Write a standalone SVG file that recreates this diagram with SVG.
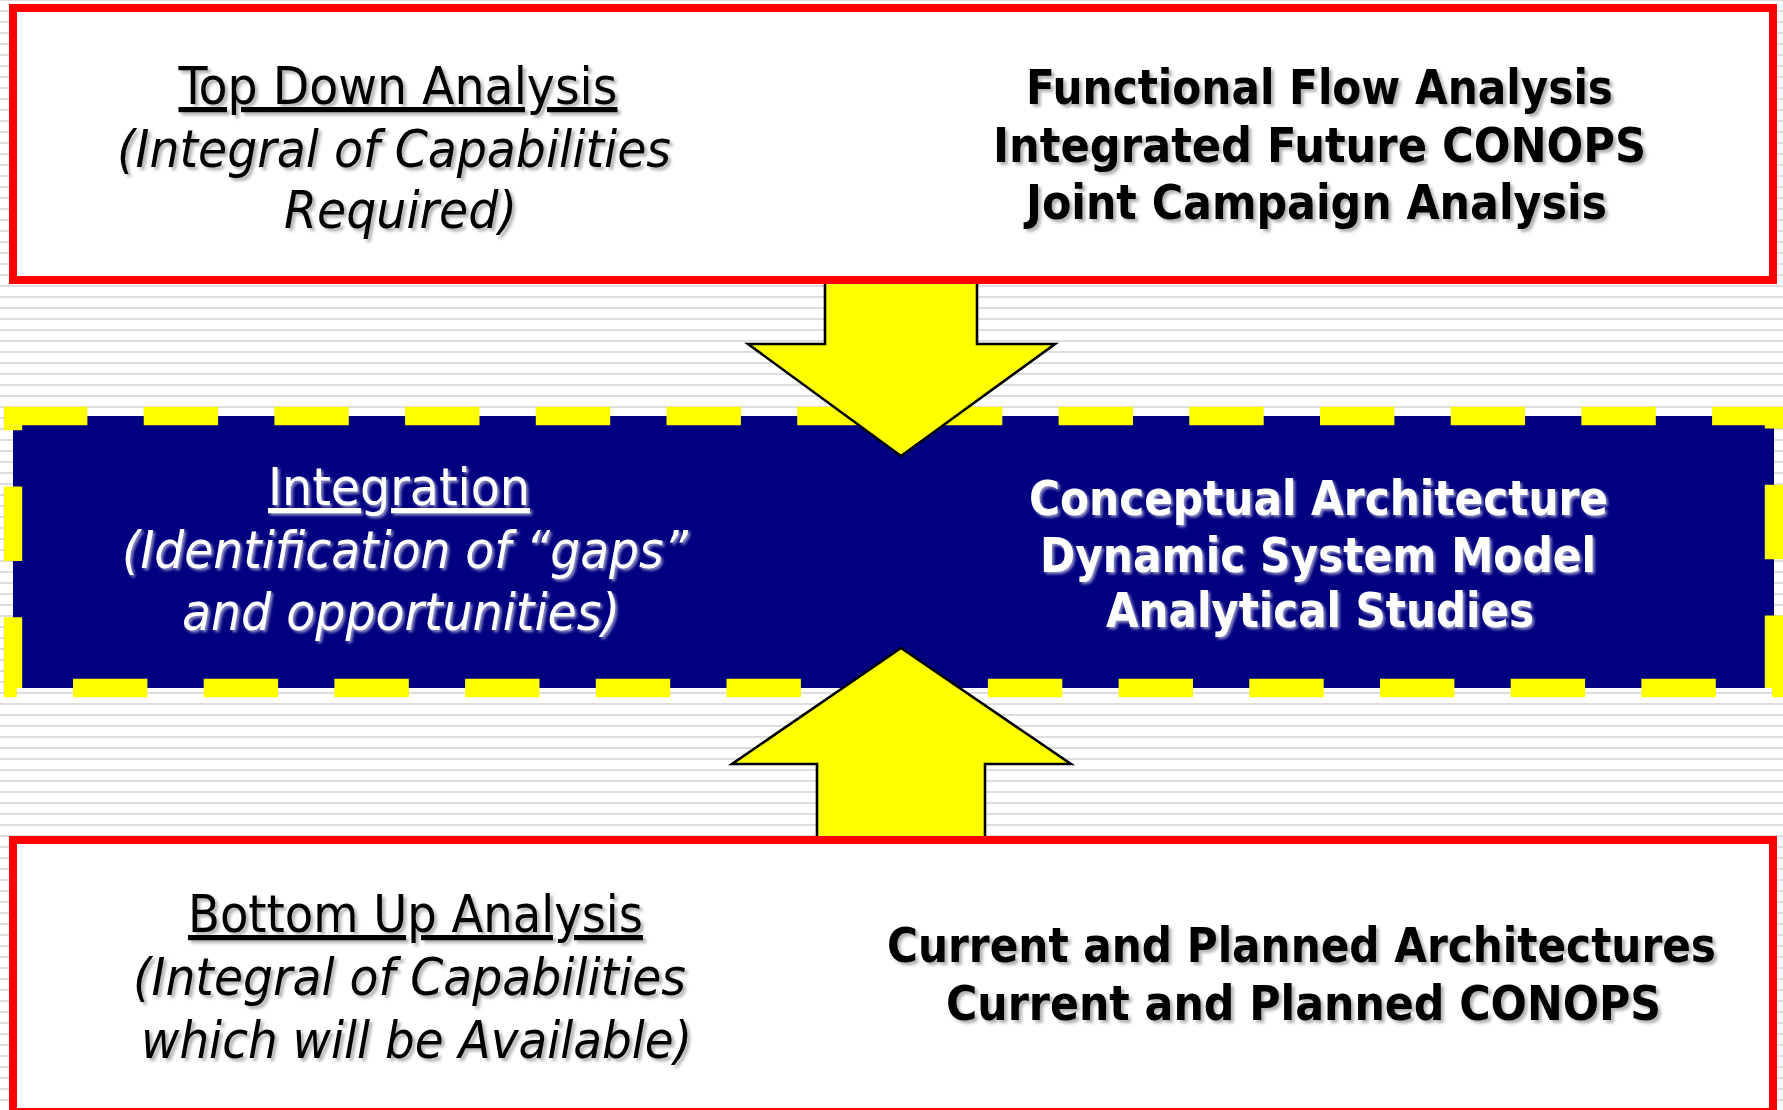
<svg xmlns="http://www.w3.org/2000/svg" width="1783" height="1110" viewBox="0 0 1783 1110">
<style>
.box{fill:#fff;stroke:#ff0000;stroke-width:8}
.mid{fill:#000080;stroke:#ffff00;stroke-width:18.4;stroke-dasharray:74.4 56.3}
.arrow{fill:#ffff00;stroke:#000;stroke-width:2.6;stroke-linejoin:miter}
.t{font-family:"DejaVu Sans Condensed","DejaVu Sans","Liberation Sans",sans-serif;font-size:52px}
.i{font-style:italic}
.u{text-decoration:underline}
.b{font-family:"DejaVu Sans Condensed","DejaVu Sans","Liberation Sans",sans-serif;font-size:48px;font-weight:bold}
.dk{fill:#000;filter:url(#sh)}
.wt{fill:#fff;filter:url(#shw)}
</style>
<defs>
<pattern id="stripes" patternUnits="userSpaceOnUse" x="0" y="10" width="20" height="11">
<rect width="20" height="11" fill="#fff"/>
<rect width="20" height="2" fill="#dddddd"/>
</pattern>
<filter id="sh" x="-5%" y="-30%" width="115%" height="170%">
<feGaussianBlur in="SourceAlpha" stdDeviation="1.4"/>
<feOffset dx="3" dy="3" result="b"/>
<feFlood flood-color="#000" flood-opacity="0.3"/>
<feComposite in2="b" operator="in"/>
<feMerge><feMergeNode/><feMergeNode in="SourceGraphic"/></feMerge>
</filter>
<filter id="shw" x="-5%" y="-30%" width="115%" height="170%">
<feGaussianBlur in="SourceAlpha" stdDeviation="1.6"/>
<feOffset dx="2" dy="2" result="b"/>
<feFlood flood-color="#c8c8e0" flood-opacity="0.75"/>
<feComposite in2="b" operator="in"/>
<feMerge><feMergeNode/><feMergeNode in="SourceGraphic"/></feMerge>
</filter>
</defs>
<rect width="1783" height="1110" fill="url(#stripes)"/>
<g id="top-down">
<rect class="box" x="13" y="8" width="1760" height="272"/>
<text class="t u dk" x="178.5" y="104" textLength="439" lengthAdjust="spacingAndGlyphs">Top Down Analysis</text>
<text class="t i dk" x="117" y="167" textLength="554" lengthAdjust="spacingAndGlyphs">(Integral of Capabilities</text>
<text class="t i dk" x="284" y="228" textLength="233" lengthAdjust="spacingAndGlyphs">Required)</text>
<text class="b dk" x="1026" y="104" textLength="587" lengthAdjust="spacingAndGlyphs">Functional Flow Analysis</text>
<text class="b dk" x="993" y="162" textLength="653" lengthAdjust="spacingAndGlyphs">Integrated Future CONOPS</text>
<text class="b dk" x="1026" y="219" textLength="581" lengthAdjust="spacingAndGlyphs">Joint Campaign Analysis</text>
</g>
<g id="bottom-up">
<rect class="box" x="13" y="840" width="1760" height="272"/>
<text class="t u dk" x="188" y="932" textLength="455" lengthAdjust="spacingAndGlyphs">Bottom Up Analysis</text>
<text class="t i dk" x="133" y="995" textLength="553" lengthAdjust="spacingAndGlyphs">(Integral of Capabilities</text>
<text class="t i dk" x="141" y="1058" textLength="551" lengthAdjust="spacingAndGlyphs">which will be Available)</text>
<text class="b dk" x="887" y="962" textLength="829" lengthAdjust="spacingAndGlyphs">Current and Planned Architectures</text>
<text class="b dk" x="946" y="1020" textLength="715" lengthAdjust="spacingAndGlyphs">Current and Planned CONOPS</text>
</g>
<g id="integration">
<rect class="mid" x="13" y="416" width="1761" height="272"/>
<text class="t u wt" x="268" y="505" textLength="262" lengthAdjust="spacingAndGlyphs">Integration</text>
<text class="t i wt" x="122" y="568" textLength="566" lengthAdjust="spacingAndGlyphs">(Identification of “gaps”</text>
<text class="t i wt" x="182" y="630" textLength="438" lengthAdjust="spacingAndGlyphs">and opportunities)</text>
<text class="b wt" x="1029" y="515" textLength="579" lengthAdjust="spacingAndGlyphs">Conceptual Architecture</text>
<text class="b wt" x="1040" y="572" textLength="556" lengthAdjust="spacingAndGlyphs">Dynamic System Model</text>
<text class="b wt" x="1106" y="627" textLength="428" lengthAdjust="spacingAndGlyphs">Analytical Studies</text>
</g>
<g id="connectors">
<path class="arrow" d="M825,284 V344 H748 L901,456 L1055,344 H977 V284"/>
<path class="arrow" d="M817,836 V764 H732 L901,648 L1071,764 H985 V836"/>
</g>
</svg>
